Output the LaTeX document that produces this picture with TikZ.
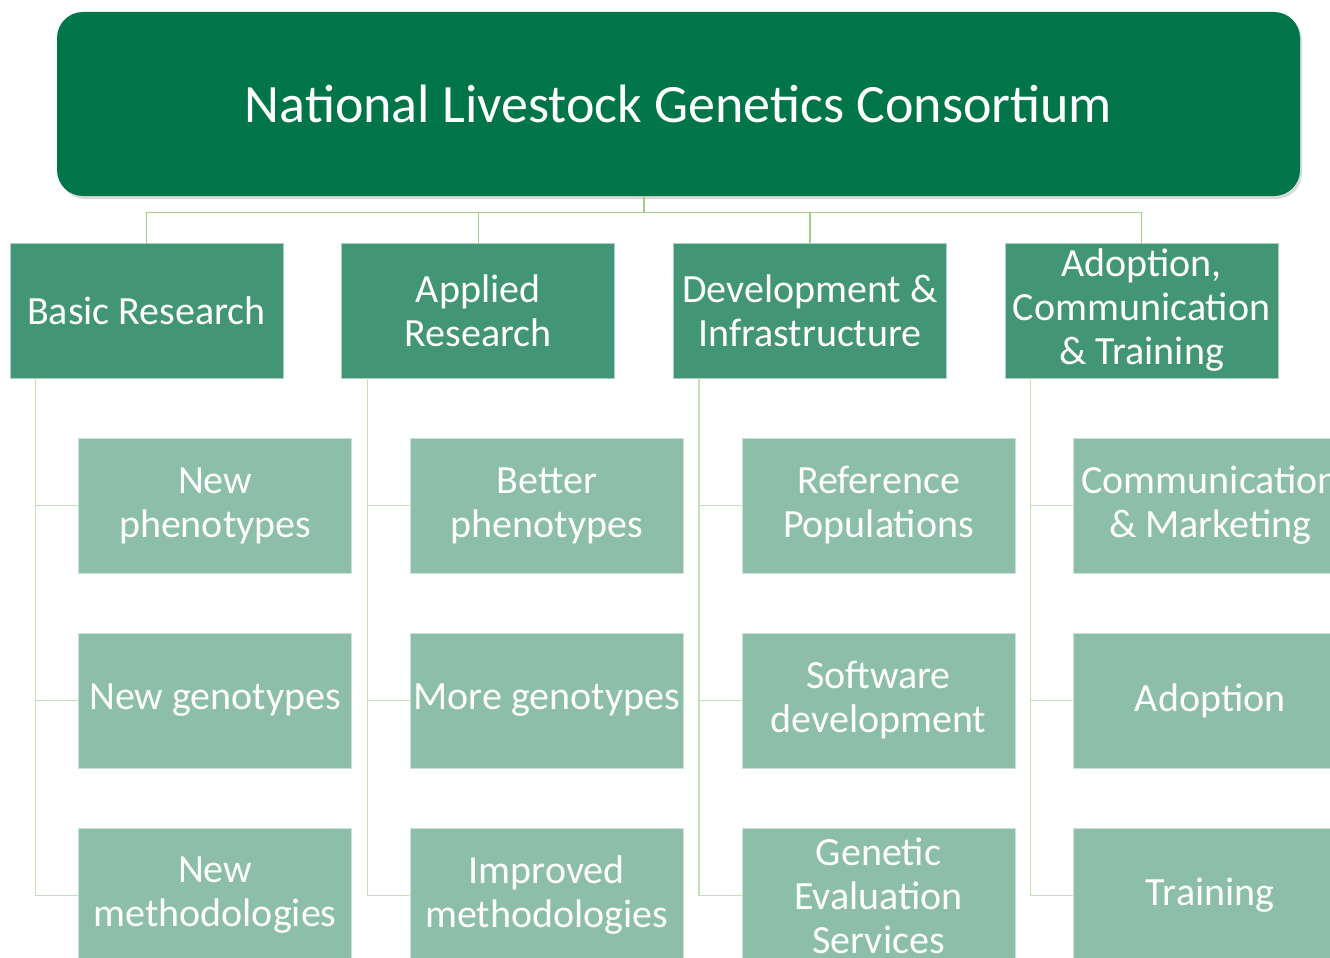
\documentclass[tikz,border=0pt]{standalone}
\usepackage{fontspec}
\setmainfont{Carlito}
\usetikzlibrary{positioning, calc, shadows}
\definecolor{darkgreen}{RGB}{0,117,74}
\definecolor{midgreen}{RGB}{67,150,117}
\definecolor{lightgreen}{RGB}{140,190,170}
\definecolor{toplink}{RGB}{165,205,135}
\definecolor{sublink}{RGB}{200,222,185}

\begin{document}
\begin{tikzpicture}[
        x=1pt, y=-1pt,
        headbox/.style={shape=rectangle, rounded corners=26pt, fill=darkgreen, text=white,
            minimum width=1243pt, minimum height=184pt, inner sep=0pt,
            font=\fontsize{54}{60}\selectfont,
            drop shadow={shadow xshift=2pt, shadow yshift=-3pt, opacity=0.3}},
        groupbox/.style={shape=rectangle, fill=midgreen, draw=white!55!midgreen, line width=0.8pt,
            text=white, minimum width=273pt, minimum height=135pt, inner sep=0pt,
            align=center, font=\fontsize{40}{44}\selectfont},
        taskbox/.style={groupbox, fill=lightgreen, draw=white!55!lightgreen},
        toplink/.style={draw=toplink, line width=1.4pt},
        sublink/.style={draw=sublink, line width=1.4pt}
        ]

        \useasboundingbox (0,0) rectangle (1330,958);
        \clip (0,0) rectangle (1330,958);

        %% Consortium
        \node[headbox] (nlgc) at (678.5,104) {National Livestock Genetics Consortium};

        %% Programme areas
        \foreach \col/\text [count=\i from 0] in {basic/{Basic Research}, applied/{Applied\\Research},
                devel/{Development \&\\Infrastructure}, adopt/{Adoption,\\Communication\\\& Training}} {
            \node[groupbox] (\col) at (146.5+331.7*\i, 310.5) {\text};
        }

        \coordinate (hub) at ($(basic.north)!0.5!(adopt.north)$);
        \foreach \col in {basic, applied, devel, adopt} {
            \draw[toplink] (hub |- nlgc.south) -- ++(0,16) -| (\col.north);
        }

        %% Tasks under each area
        \foreach \col/\a/\b/\c in {basic/{New\\phenotypes}/{New genotypes}/{New\\methodologies},
                applied/{Better\\phenotypes}/{More genotypes}/{Improved\\methodologies},
                devel/{Reference\\Populations}/{Software\\development}/{Genetic\\Evaluation\\Services},
                adopt/{Communication\\\& Marketing}/{Adoption}/{Training}} {
            \foreach \task [count=\j] in {\a,\b,\c} {
                \node[taskbox] (\col-\j) at ($(\col.south west)+(205.5,127+195*\j-195)$) {\task};
                \draw[sublink] ($(\col.south west)+(26,0)$) |- (\col-\j.west);
            }
        }
\end{tikzpicture}
\end{document}
